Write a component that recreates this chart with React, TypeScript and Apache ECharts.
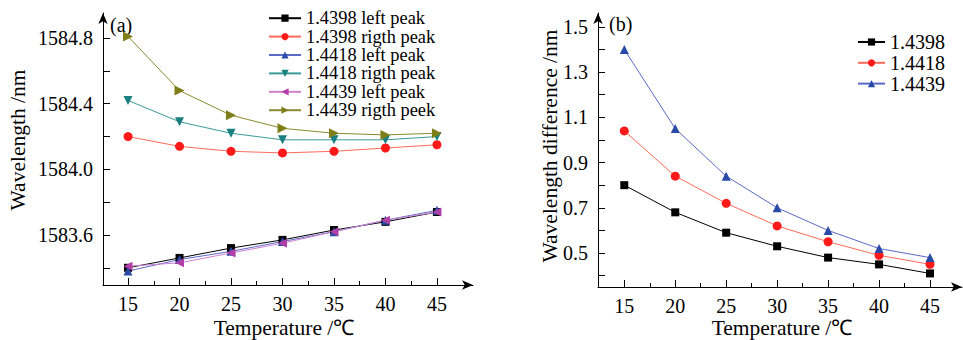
import React, { useEffect, useRef } from "react";
import * as echarts from "echarts";

const temps = [15, 20, 25, 30, 35, 40, 45];
const left1398 = [1583.40, 1583.46, 1583.52, 1583.57, 1583.63, 1583.68, 1583.74];
const right1398 = [1584.20, 1584.14, 1584.11, 1584.10, 1584.11, 1584.13, 1584.15];
const left1418 = [1583.38, 1583.45, 1583.50, 1583.56, 1583.62, 1583.69, 1583.75];
const right1418 = [1584.42, 1584.29, 1584.22, 1584.18, 1584.18, 1584.18, 1584.20];
const left1439 = [1583.41, 1583.43, 1583.49, 1583.55, 1583.62, 1583.69, 1583.74];
const right1439 = [1584.81, 1584.48, 1584.33, 1584.25, 1584.22, 1584.21, 1584.22];
const diff1398 = [0.80, 0.68, 0.59, 0.53, 0.48, 0.45, 0.41];
const diff1418 = [1.04, 0.84, 0.72, 0.62, 0.55, 0.49, 0.45];
const diff1439 = [1.40, 1.05, 0.84, 0.70, 0.60, 0.52, 0.48];

const xMajor = [15, 20, 25, 30, 35, 40, 45];
const xMinor = [17.5, 22.5, 27.5, 32.5, 37.5, 42.5];
const yLeftTicks = [1583.4, 1583.6, 1583.8, 1584.0, 1584.2, 1584.4, 1584.6, 1584.8];
const yLeftLabels = [1583.6, 1584.0, 1584.4, 1584.8];
const yRightTicks = [0.4, 0.5, 0.6, 0.7, 0.8, 0.9, 1.0, 1.1, 1.2, 1.3, 1.4, 1.5];
const yRightLabels = [0.5, 0.7, 0.9, 1.1, 1.3, 1.5];

const FONT = "'Liberation Serif', 'Times New Roman', serif";

export default function App() {
  const ref = useRef<HTMLDivElement>(null);
  useEffect(() => {
    if (!ref.current) return;
    const chart = echarts.init(ref.current, undefined, { renderer: "svg" });
    const pair = (ys: number[]) => temps.map((t, i) => [t, ys[i]]);
    const axisLine = {
      show: true,
      onZero: false,
      symbol: ["none", "arrow"],
      symbolSize: [7, 11],
      lineStyle: { color: "#000", width: 1 },
    };
    const labelStyle = { color: "#000", fontFamily: FONT, fontSize: 20 };
    const mkX = (grid: number, min: number, max: number) => [
      {
        type: "value",
        gridIndex: grid,
        position: "bottom",
        min,
        max,
        axisLine,
        splitLine: { show: false },
        axisTick: { show: true, inside: true, length: 7, customValues: xMajor, lineStyle: { color: "#000" } },
        axisLabel: { ...labelStyle, margin: 9, customValues: xMajor },
      },
      {
        type: "value",
        gridIndex: grid,
        position: "bottom",
        min,
        max,
        axisLine: { show: false, onZero: false },
        splitLine: { show: false },
        axisTick: { show: true, inside: true, length: 4, customValues: xMinor, lineStyle: { color: "#000" } },
        axisLabel: { show: false },
      },
    ];
    const mkY = (grid: number, min: number, max: number, ticks: number[], labels: number[]) => ({
      type: "value",
      gridIndex: grid,
      min,
      max,
      axisLine,
      splitLine: { show: false },
      axisTick: { show: true, inside: true, length: 7, customValues: ticks, lineStyle: { color: "#000" } },
      axisLabel: { ...labelStyle, margin: 10, customValues: labels, formatter: (v: number) => v.toFixed(1) },
    });
    const line = (
      name: string,
      xi: number,
      yi: number,
      data: number[],
      color: string,
      lineColor: string,
      symbol: string,
      size: number,
      rotate = 0
    ) => ({
      type: "line",
      name,
      xAxisIndex: xi,
      yAxisIndex: yi,
      data: pair(data),
      symbol,
      symbolSize: size,
      symbolRotate: rotate,
      showSymbol: true,
      itemStyle: { color },
      lineStyle: { color: lineColor, width: 1 },
    });
    const title = (text: string, x: number, y: number, rot: number) => ({
      type: "text",
      x,
      y,
      rotation: rot,
      style: { text, fill: "#000", font: `21.5px ${FONT}`, align: "center", verticalAlign: "middle" },
    });
    chart.setOption({
      animation: false,
      backgroundColor: "#fff",
      grid: [
        { left: 103, top: 13, width: 370, height: 272 },
        { left: 598, top: 13, width: 364, height: 274 },
      ],
      xAxis: [...mkX(0, 12.57, 48.5), ...mkX(1, 12.42, 48.14)],
      yAxis: [
        mkY(0, 1583.295, 1584.953, yLeftTicks, yLeftLabels),
        mkY(1, 0.35, 1.561, yRightTicks, yRightLabels),
      ],
      legend: [
        {
          data: ["1.4398 left peak", "1.4398 rigth peak", "1.4418 left peak", "1.4418 rigth peak", "1.4439 left peak", "1.4439 rigth peek"],
          orient: "vertical",
          left: 268,
          top: 9,
          itemWidth: 32,
          itemHeight: 9,
          itemGap: 0,
          padding: 0,
          textStyle: { color: "#000", fontFamily: FONT, fontSize: 18.4, lineHeight: 18.4 },
        },
        {
          data: ["1.4398", "1.4418", "1.4439"],
          orient: "vertical",
          left: 857,
          top: 32,
          itemWidth: 27,
          itemHeight: 9,
          itemGap: 0.8,
          padding: 0,
          textStyle: { color: "#000", fontFamily: FONT, fontSize: 20, lineHeight: 20 },
        },
      ],
      graphic: [
        { type: "text", x: 110, y: 25, style: { text: "(a)", fill: "#000", font: `20px ${FONT}`, verticalAlign: "middle" } },
        { type: "text", x: 609, y: 24, style: { text: "(b)", fill: "#000", font: `20px ${FONT}`, verticalAlign: "middle" } },
        title("Wavelength /nm", 18, 140, Math.PI / 2),
        title("Wavelength difference /nm", 549.5, 146, Math.PI / 2),
        title("Temperature /℃", 284, 328, 0),
        title("Temperature /℃", 782, 328, 0),
      ],
      series: [
        line("1.4398 left peak", 0, 0, left1398, "#000000", "#000000", "rect", 8),
        line("1.4398 rigth peak", 0, 0, right1398, "#ff1a1a", "#ff6a5a", "circle", 9),
        line("1.4418 left peak", 0, 0, left1418, "#2a4aa8", "#5a6ac8", "triangle", 9),
        line("1.4418 rigth peak", 0, 0, right1418, "#1a7f80", "#3a9a9a", "triangle", 9, 180),
        line("1.4439 left peak", 0, 0, left1439, "#b040a8", "#d080d0", "triangle", 9, 90),
        line("1.4439 rigth peek", 0, 0, right1439, "#7f7f1a", "#8a8a30", "triangle", 10, -90),
        line("1.4398", 2, 1, diff1398, "#000000", "#000000", "rect", 8),
        line("1.4418", 2, 1, diff1418, "#ff1a1a", "#ff6a5a", "circle", 9),
        line("1.4439", 2, 1, diff1439, "#2a4aa8", "#5a6ac8", "triangle", 9),
      ],
    });
    return () => chart.dispose();
  }, []);
  return (
    <div
      ref={ref}
      style={{ position: "fixed", left: 0, top: 0, width: 963, height: 340, background: "#fff" }}
    />
  );
}
